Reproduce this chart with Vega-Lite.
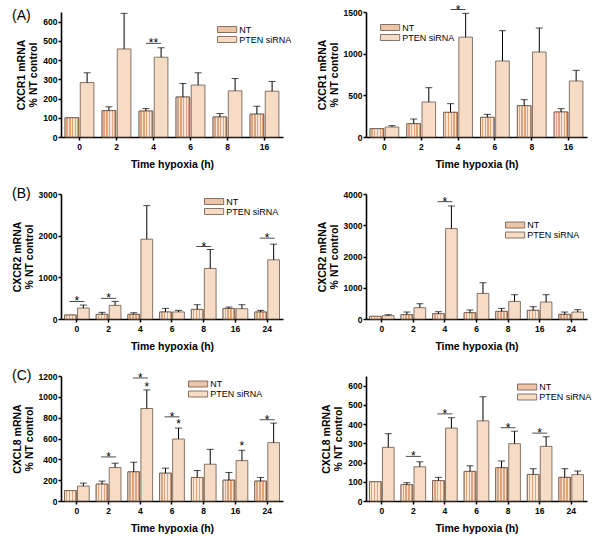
{
"$schema": "https://vega.github.io/schema/vega-lite/v6.json",
"padding": {"left": 12, "top": 3, "right": 5, "bottom": 3},
"config": {
 "font": "Liberation Sans",
 "view": {"stroke": null},
 "axis": {"domainColor": "black", "domainWidth": 1.6, "tickColor": "black", "tickWidth": 1.5, "tickSize": 3, "labelColor": "black", "labelFontWeight": "bold", "labelFontSize": 8.5, "labelFont": "Liberation Sans", "titleFont": "Liberation Sans", "titleColor": "black", "titleFontWeight": "bold", "titleFontSize": 10.5, "grid": false, "labelPadding": 1, "titleLineHeight": 12, "labelOverlap": false},
 "axisX": {"labelAngle": 0, "labelFontSize": 8.5, "labelPadding": 2, "titlePadding": 9},
 "axisY": {"titlePadding": 4, "labelOverlap": false, "tickCount": 10},
 "legend": {"orient": "none", "symbolType": "M-2.4,-0.75H2.4V0.75H-2.4Z", "symbolSize": 64, "symbolStrokeColor": "#6a5548", "symbolStrokeWidth": 0.8, "labelFontSize": 9, "labelFont": "Liberation Sans", "labelColor": "black", "rowPadding": -2, "labelOffset": 7.6, "padding": 0},
 "title": {"font": "Liberation Sans", "fontSize": 14, "fontWeight": "normal", "anchor": "start", "frame": "group", "offset": 0, "color": "black"}
},
"datasets": {
 "bars": [
  {"p":"A1","t":"0","g":"NT","v":100,"e":100},{"p":"A1","t":"0","g":"PTEN siRNA","v":283,"e":334},
  {"p":"A1","t":"2","g":"NT","v":137,"e":157},{"p":"A1","t":"2","g":"PTEN siRNA","v":458,"e":643},
  {"p":"A1","t":"4","g":"NT","v":135,"e":148},{"p":"A1","t":"4","g":"PTEN siRNA","v":415,"e":464},
  {"p":"A1","t":"6","g":"NT","v":208,"e":278},{"p":"A1","t":"6","g":"PTEN siRNA","v":270,"e":334},
  {"p":"A1","t":"8","g":"NT","v":104,"e":122},{"p":"A1","t":"8","g":"PTEN siRNA","v":240,"e":304},
  {"p":"A1","t":"16","g":"NT","v":119,"e":160},{"p":"A1","t":"16","g":"PTEN siRNA","v":238,"e":289},

  {"p":"A2","t":"0","g":"NT","v":100,"e":100},{"p":"A2","t":"0","g":"PTEN siRNA","v":120,"e":136},
  {"p":"A2","t":"2","g":"NT","v":160,"e":216},{"p":"A2","t":"2","g":"PTEN siRNA","v":420,"e":592},
  {"p":"A2","t":"4","g":"NT","v":296,"e":400},{"p":"A2","t":"4","g":"PTEN siRNA","v":1198,"e":1484},
  {"p":"A2","t":"6","g":"NT","v":236,"e":272},{"p":"A2","t":"6","g":"PTEN siRNA","v":912,"e":1276},
  {"p":"A2","t":"8","g":"NT","v":376,"e":448},{"p":"A2","t":"8","g":"PTEN siRNA","v":1020,"e":1308},
  {"p":"A2","t":"16","g":"NT","v":300,"e":340},{"p":"A2","t":"16","g":"PTEN siRNA","v":672,"e":800},

  {"p":"B1","t":"0","g":"NT","v":95,"e":95},{"p":"B1","t":"0","g":"PTEN siRNA","v":263,"e":335},
  {"p":"B1","t":"2","g":"NT","v":112,"e":160},{"p":"B1","t":"2","g":"PTEN siRNA","v":327,"e":423},
  {"p":"B1","t":"4","g":"NT","v":112,"e":150},{"p":"B1","t":"4","g":"PTEN siRNA","v":1915,"e":2721},
  {"p":"B1","t":"6","g":"NT","v":168,"e":255},{"p":"B1","t":"6","g":"PTEN siRNA","v":170,"e":207},
  {"p":"B1","t":"8","g":"NT","v":231,"e":343},{"p":"B1","t":"8","g":"PTEN siRNA","v":1213,"e":1668},
  {"p":"B1","t":"16","g":"NT","v":252,"e":287},{"p":"B1","t":"16","g":"PTEN siRNA","v":247,"e":343},
  {"p":"B1","t":"24","g":"NT","v":168,"e":207},{"p":"B1","t":"24","g":"PTEN siRNA","v":1420,"e":1796},

  {"p":"B2","t":"0","g":"NT","v":85,"e":85},{"p":"B2","t":"0","g":"PTEN siRNA","v":106,"e":138},
  {"p":"B2","t":"2","g":"NT","v":138,"e":223},{"p":"B2","t":"2","g":"PTEN siRNA","v":362,"e":489},
  {"p":"B2","t":"4","g":"NT","v":170,"e":234},{"p":"B2","t":"4","g":"PTEN siRNA","v":2894,"e":3617},
  {"p":"B2","t":"6","g":"NT","v":202,"e":287},{"p":"B2","t":"6","g":"PTEN siRNA","v":819,"e":1160},
  {"p":"B2","t":"8","g":"NT","v":245,"e":340},{"p":"B2","t":"8","g":"PTEN siRNA","v":564,"e":777},
  {"p":"B2","t":"16","g":"NT","v":277,"e":394},{"p":"B2","t":"16","g":"PTEN siRNA","v":543,"e":777},
  {"p":"B2","t":"24","g":"NT","v":149,"e":223},{"p":"B2","t":"24","g":"PTEN siRNA","v":223,"e":298},

  {"p":"C1","t":"0","g":"NT","v":100,"e":100},{"p":"C1","t":"0","g":"PTEN siRNA","v":143,"e":172},
  {"p":"C1","t":"2","g":"NT","v":162,"e":191},{"p":"C1","t":"2","g":"PTEN siRNA","v":321,"e":363},
  {"p":"C1","t":"4","g":"NT","v":280,"e":372},{"p":"C1","t":"4","g":"PTEN siRNA","v":888,"e":1066},
  {"p":"C1","t":"6","g":"NT","v":267,"e":315},{"p":"C1","t":"6","g":"PTEN siRNA","v":595,"e":700},
  {"p":"C1","t":"8","g":"NT","v":226,"e":293},{"p":"C1","t":"8","g":"PTEN siRNA","v":353,"e":496},
  {"p":"C1","t":"16","g":"NT","v":200,"e":274},{"p":"C1","t":"16","g":"PTEN siRNA","v":388,"e":487},
  {"p":"C1","t":"24","g":"NT","v":191,"e":226},{"p":"C1","t":"24","g":"PTEN siRNA","v":560,"e":748},

  {"p":"C2","t":"0","g":"NT","v":100,"e":100},{"p":"C2","t":"0","g":"PTEN siRNA","v":279,"e":350},
  {"p":"C2","t":"2","g":"NT","v":85,"e":95},{"p":"C2","t":"2","g":"PTEN siRNA","v":178,"e":204},
  {"p":"C2","t":"4","g":"NT","v":106,"e":123},{"p":"C2","t":"4","g":"PTEN siRNA","v":379,"e":433},
  {"p":"C2","t":"6","g":"NT","v":154,"e":183},{"p":"C2","t":"6","g":"PTEN siRNA","v":417,"e":542},
  {"p":"C2","t":"8","g":"NT","v":173,"e":208},{"p":"C2","t":"8","g":"PTEN siRNA","v":298,"e":363},
  {"p":"C2","t":"16","g":"NT","v":138,"e":168},{"p":"C2","t":"16","g":"PTEN siRNA","v":284,"e":334},
  {"p":"C2","t":"24","g":"NT","v":123,"e":168},{"p":"C2","t":"24","g":"PTEN siRNA","v":137,"e":156}
 ],
 "sig": [
  {"p":"A1","t":"4","y":487,"s":"**"},
  {"p":"A2","t":"4","y":1530,"s":"*"},
  {"p":"B1","t":"0","y":423,"s":"*"},{"p":"B1","t":"2","y":495,"s":"*"},{"p":"B1","t":"8","y":1740,"s":"*"},{"p":"B1","t":"24","y":1940,"s":"*"},
  {"p":"B2","t":"4","y":3755,"s":"*"},
  {"p":"C1","t":"2","y":423,"s":"*"},{"p":"C1","t":"4","y":1181,"s":"*"},{"p":"C1","t":"6","y":808,"s":"*"},{"p":"C1","t":"24","y":780,"s":"*"},
  {"p":"C2","t":"2","y":232,"s":"*"},{"p":"C2","t":"4","y":453,"s":"*"},{"p":"C2","t":"8","y":381,"s":"*"},{"p":"C2","t":"16","y":353,"s":"*"}
 ],
 "pstars": [
  {"p":"C1","t":"4","g":"PTEN siRNA","y":1096,"s":"*"},
  {"p":"C1","t":"6","g":"PTEN siRNA","y":740,"s":"*"},
  {"p":"C1","t":"16","g":"PTEN siRNA","y":527,"s":"*"}
 ]
},
"columns": 2,
"spacing": {"row": 57, "column": 83},
"bounds": "flush",
"resolve": {"scale": {"x": "independent", "y": "independent", "fill": "independent", "xOffset": "independent"}, "legend": {"fill": "independent"}},
"concat": [
     {
      "width": 222, "height": 125,
      "title": {"text": "(A)", "dx": -49, "dy": 15},
      "layer": [
       {"data": {"name": "bars"}, "transform": [{"filter": "datum.p=='A1'"}],
        "mark": {"type": "bar", "stroke": "#6a5548", "strokeWidth": 0.8},
        "encoding": {
         "x": {"field": "t", "type": "nominal", "scale": {"domain": ["0","2","4","6","8","16"], "paddingInner": 0.22, "paddingOuter": 0.11}, "axis": {"title": "Time hypoxia (h)"}},
         "xOffset": {"field": "g", "type": "nominal", "scale": {"domain": ["NT","PTEN siRNA"], "paddingInner": 0.1}},
         "y": {"field": "v", "type": "quantitative", "scale": {"domain": [0,650], "nice": false}, "axis": {"title": ["CXCR1 mRNA","% NT control"], "values": [0,100,200,300,400,500,600], "format": "d", "labelOverlap": false, "tickCount": 10}},
         "fill": {"field": "g", "type": "nominal", "scale": {"domain": ["NT","PTEN siRNA"], "range": ["#eec4a6","#f7dcc5"]}, "legend": {"title": null, "orient": "none", "legendX": 161.6, "legendY": 13}}
        }},
       {"data": {"name": "bars"}, "transform": [{"filter": "datum.p=='A1' && datum.g=='NT'"}],
        "mark": {"type": "bar", "stroke": "#6a5548", "strokeWidth": 0.8, "fill": {"gradient": "linear", "x1": 0, "y1": 0, "x2": 1, "y2": 0, "stops": [{"offset": 0, "color": "#fbe6d6"}, {"offset": 0.1, "color": "#fbe6d6"}, {"offset": 0.1, "color": "#e0a47c"}, {"offset": 0.2, "color": "#e0a47c"}, {"offset": 0.2, "color": "#fbe6d6"}, {"offset": 0.3, "color": "#fbe6d6"}, {"offset": 0.3, "color": "#e0a47c"}, {"offset": 0.4, "color": "#e0a47c"}, {"offset": 0.4, "color": "#fbe6d6"}, {"offset": 0.5, "color": "#fbe6d6"}, {"offset": 0.5, "color": "#e0a47c"}, {"offset": 0.6, "color": "#e0a47c"}, {"offset": 0.6, "color": "#fbe6d6"}, {"offset": 0.7, "color": "#fbe6d6"}, {"offset": 0.7, "color": "#e0a47c"}, {"offset": 0.8, "color": "#e0a47c"}, {"offset": 0.8, "color": "#fbe6d6"}, {"offset": 0.9, "color": "#fbe6d6"}, {"offset": 0.9, "color": "#e0a47c"}, {"offset": 1, "color": "#e0a47c"}]}},
        "encoding": {"x": {"field": "t", "type": "nominal"}, "xOffset": {"field": "g", "type": "nominal"}, "y": {"field": "v", "type": "quantitative"}}},
       {"data": {"name": "bars"}, "transform": [{"filter": "datum.p=='A1' && datum.e > datum.v"}],
        "mark": {"type": "rule", "color": "black", "strokeWidth": 1},
        "encoding": {"x": {"field": "t", "type": "nominal"}, "xOffset": {"field": "g", "type": "nominal"}, "y": {"field": "v", "type": "quantitative"}, "y2": {"field": "e"}}},
       {"data": {"name": "bars"}, "transform": [{"filter": "datum.p=='A1' && datum.e > datum.v"}],
        "mark": {"type": "tick", "color": "black", "thickness": 1, "size": 7},
        "encoding": {"x": {"field": "t", "type": "nominal"}, "xOffset": {"field": "g", "type": "nominal"}, "y": {"field": "e", "type": "quantitative"}}},
       {"data": {"name": "sig"}, "transform": [{"filter": "datum.p=='A1'"}],
        "mark": {"type": "tick", "color": "black", "thickness": 1, "size": 15},
        "encoding": {"x": {"field": "t", "type": "nominal"}, "y": {"field": "y", "type": "quantitative"}}},
       {"data": {"name": "sig"}, "transform": [{"filter": "datum.p=='A1'"}],
        "mark": {"type": "text", "dy": 4, "baseline": "alphabetic", "fontSize": 12, "color": "black"},
        "encoding": {"x": {"field": "t", "type": "nominal"}, "y": {"field": "y", "type": "quantitative"}, "text": {"field": "s"}}}
      ]
     },
     {
      "width": 221, "height": 125,
      "layer": [
       {"data": {"name": "bars"}, "transform": [{"filter": "datum.p=='A2'"}],
        "mark": {"type": "bar", "stroke": "#6a5548", "strokeWidth": 0.8},
        "encoding": {
         "x": {"field": "t", "type": "nominal", "scale": {"domain": ["0","2","4","6","8","16"], "paddingInner": 0.22, "paddingOuter": 0.11}, "axis": {"title": "Time hypoxia (h)"}},
         "xOffset": {"field": "g", "type": "nominal", "scale": {"domain": ["NT","PTEN siRNA"], "paddingInner": 0.1}},
         "y": {"field": "v", "type": "quantitative", "scale": {"domain": [0,1500], "nice": false}, "axis": {"title": ["CXCR1 mRNA","% NT control"], "values": [0,500,1000,1500], "format": "d", "labelOverlap": false, "tickCount": 10}},
         "fill": {"field": "g", "type": "nominal", "scale": {"domain": ["NT","PTEN siRNA"], "range": ["#eec4a6","#f7dcc5"]}, "legend": {"title": null, "orient": "none", "legendX": 19.6, "legendY": 11}}
        }},
       {"data": {"name": "bars"}, "transform": [{"filter": "datum.p=='A2' && datum.g=='NT'"}],
        "mark": {"type": "bar", "stroke": "#6a5548", "strokeWidth": 0.8, "fill": {"gradient": "linear", "x1": 0, "y1": 0, "x2": 1, "y2": 0, "stops": [{"offset": 0, "color": "#fbe6d6"}, {"offset": 0.1, "color": "#fbe6d6"}, {"offset": 0.1, "color": "#e0a47c"}, {"offset": 0.2, "color": "#e0a47c"}, {"offset": 0.2, "color": "#fbe6d6"}, {"offset": 0.3, "color": "#fbe6d6"}, {"offset": 0.3, "color": "#e0a47c"}, {"offset": 0.4, "color": "#e0a47c"}, {"offset": 0.4, "color": "#fbe6d6"}, {"offset": 0.5, "color": "#fbe6d6"}, {"offset": 0.5, "color": "#e0a47c"}, {"offset": 0.6, "color": "#e0a47c"}, {"offset": 0.6, "color": "#fbe6d6"}, {"offset": 0.7, "color": "#fbe6d6"}, {"offset": 0.7, "color": "#e0a47c"}, {"offset": 0.8, "color": "#e0a47c"}, {"offset": 0.8, "color": "#fbe6d6"}, {"offset": 0.9, "color": "#fbe6d6"}, {"offset": 0.9, "color": "#e0a47c"}, {"offset": 1, "color": "#e0a47c"}]}},
        "encoding": {"x": {"field": "t", "type": "nominal"}, "xOffset": {"field": "g", "type": "nominal"}, "y": {"field": "v", "type": "quantitative"}}},
       {"data": {"name": "bars"}, "transform": [{"filter": "datum.p=='A2' && datum.e > datum.v"}],
        "mark": {"type": "rule", "color": "black", "strokeWidth": 1},
        "encoding": {"x": {"field": "t", "type": "nominal"}, "xOffset": {"field": "g", "type": "nominal"}, "y": {"field": "v", "type": "quantitative"}, "y2": {"field": "e"}}},
       {"data": {"name": "bars"}, "transform": [{"filter": "datum.p=='A2' && datum.e > datum.v"}],
        "mark": {"type": "tick", "color": "black", "thickness": 1, "size": 7},
        "encoding": {"x": {"field": "t", "type": "nominal"}, "xOffset": {"field": "g", "type": "nominal"}, "y": {"field": "e", "type": "quantitative"}}},
       {"data": {"name": "sig"}, "transform": [{"filter": "datum.p=='A2'"}],
        "mark": {"type": "tick", "color": "black", "thickness": 1, "size": 15},
        "encoding": {"x": {"field": "t", "type": "nominal"}, "y": {"field": "y", "type": "quantitative"}}},
       {"data": {"name": "sig"}, "transform": [{"filter": "datum.p=='A2'"}],
        "mark": {"type": "text", "dy": 4, "baseline": "alphabetic", "fontSize": 12, "color": "black"},
        "encoding": {"x": {"field": "t", "type": "nominal"}, "y": {"field": "y", "type": "quantitative"}, "text": {"field": "s"}}}
      ]
     },
     {
      "width": 222, "height": 125,
      "title": {"text": "(B)", "dx": -49, "dy": 15},
      "layer": [
       {"data": {"name": "bars"}, "transform": [{"filter": "datum.p=='B1'"}],
        "mark": {"type": "bar", "stroke": "#6a5548", "strokeWidth": 0.8},
        "encoding": {
         "x": {"field": "t", "type": "nominal", "scale": {"domain": ["0","2","4","6","8","16","24"], "paddingInner": 0.22, "paddingOuter": 0.11}, "axis": {"title": "Time hypoxia (h)"}},
         "xOffset": {"field": "g", "type": "nominal", "scale": {"domain": ["NT","PTEN siRNA"], "paddingInner": 0.1}},
         "y": {"field": "v", "type": "quantitative", "scale": {"domain": [0,3000], "nice": false}, "axis": {"title": ["CXCR2 mRNA","% NT control"], "values": [0,1000,2000,3000], "format": "d", "labelOverlap": false, "tickCount": 10}},
         "fill": {"field": "g", "type": "nominal", "scale": {"domain": ["NT","PTEN siRNA"], "range": ["#eec4a6","#f7dcc5"]}, "legend": {"title": null, "orient": "none", "legendX": 148.6, "legendY": 3}}
        }},
       {"data": {"name": "bars"}, "transform": [{"filter": "datum.p=='B1' && datum.g=='NT'"}],
        "mark": {"type": "bar", "stroke": "#6a5548", "strokeWidth": 0.8, "fill": {"gradient": "linear", "x1": 0, "y1": 0, "x2": 1, "y2": 0, "stops": [{"offset": 0, "color": "#fbe6d6"}, {"offset": 0.125, "color": "#fbe6d6"}, {"offset": 0.125, "color": "#e0a47c"}, {"offset": 0.25, "color": "#e0a47c"}, {"offset": 0.25, "color": "#fbe6d6"}, {"offset": 0.375, "color": "#fbe6d6"}, {"offset": 0.375, "color": "#e0a47c"}, {"offset": 0.5, "color": "#e0a47c"}, {"offset": 0.5, "color": "#fbe6d6"}, {"offset": 0.625, "color": "#fbe6d6"}, {"offset": 0.625, "color": "#e0a47c"}, {"offset": 0.75, "color": "#e0a47c"}, {"offset": 0.75, "color": "#fbe6d6"}, {"offset": 0.875, "color": "#fbe6d6"}, {"offset": 0.875, "color": "#e0a47c"}, {"offset": 1, "color": "#e0a47c"}]}},
        "encoding": {"x": {"field": "t", "type": "nominal"}, "xOffset": {"field": "g", "type": "nominal"}, "y": {"field": "v", "type": "quantitative"}}},
       {"data": {"name": "bars"}, "transform": [{"filter": "datum.p=='B1' && datum.e > datum.v"}],
        "mark": {"type": "rule", "color": "black", "strokeWidth": 1},
        "encoding": {"x": {"field": "t", "type": "nominal"}, "xOffset": {"field": "g", "type": "nominal"}, "y": {"field": "v", "type": "quantitative"}, "y2": {"field": "e"}}},
       {"data": {"name": "bars"}, "transform": [{"filter": "datum.p=='B1' && datum.e > datum.v"}],
        "mark": {"type": "tick", "color": "black", "thickness": 1, "size": 7},
        "encoding": {"x": {"field": "t", "type": "nominal"}, "xOffset": {"field": "g", "type": "nominal"}, "y": {"field": "e", "type": "quantitative"}}},
       {"data": {"name": "sig"}, "transform": [{"filter": "datum.p=='B1'"}],
        "mark": {"type": "tick", "color": "black", "thickness": 1, "size": 15},
        "encoding": {"x": {"field": "t", "type": "nominal"}, "y": {"field": "y", "type": "quantitative"}}},
       {"data": {"name": "sig"}, "transform": [{"filter": "datum.p=='B1'"}],
        "mark": {"type": "text", "dy": 4, "baseline": "alphabetic", "fontSize": 12, "color": "black"},
        "encoding": {"x": {"field": "t", "type": "nominal"}, "y": {"field": "y", "type": "quantitative"}, "text": {"field": "s"}}}
      ]
     },
     {
      "width": 221, "height": 125,
      "layer": [
       {"data": {"name": "bars"}, "transform": [{"filter": "datum.p=='B2'"}],
        "mark": {"type": "bar", "stroke": "#6a5548", "strokeWidth": 0.8},
        "encoding": {
         "x": {"field": "t", "type": "nominal", "scale": {"domain": ["0","2","4","6","8","16","24"], "paddingInner": 0.22, "paddingOuter": 0.11}, "axis": {"title": "Time hypoxia (h)"}},
         "xOffset": {"field": "g", "type": "nominal", "scale": {"domain": ["NT","PTEN siRNA"], "paddingInner": 0.1}},
         "y": {"field": "v", "type": "quantitative", "scale": {"domain": [0,4000], "nice": false}, "axis": {"title": ["CXCR2 mRNA","% NT control"], "values": [0,1000,2000,3000,4000], "format": "d", "labelOverlap": false, "tickCount": 10}},
         "fill": {"field": "g", "type": "nominal", "scale": {"domain": ["NT","PTEN siRNA"], "range": ["#eec4a6","#f7dcc5"]}, "legend": {"title": null, "orient": "none", "legendX": 144.6, "legendY": 26.5}}
        }},
       {"data": {"name": "bars"}, "transform": [{"filter": "datum.p=='B2' && datum.g=='NT'"}],
        "mark": {"type": "bar", "stroke": "#6a5548", "strokeWidth": 0.8, "fill": {"gradient": "linear", "x1": 0, "y1": 0, "x2": 1, "y2": 0, "stops": [{"offset": 0, "color": "#fbe6d6"}, {"offset": 0.125, "color": "#fbe6d6"}, {"offset": 0.125, "color": "#e0a47c"}, {"offset": 0.25, "color": "#e0a47c"}, {"offset": 0.25, "color": "#fbe6d6"}, {"offset": 0.375, "color": "#fbe6d6"}, {"offset": 0.375, "color": "#e0a47c"}, {"offset": 0.5, "color": "#e0a47c"}, {"offset": 0.5, "color": "#fbe6d6"}, {"offset": 0.625, "color": "#fbe6d6"}, {"offset": 0.625, "color": "#e0a47c"}, {"offset": 0.75, "color": "#e0a47c"}, {"offset": 0.75, "color": "#fbe6d6"}, {"offset": 0.875, "color": "#fbe6d6"}, {"offset": 0.875, "color": "#e0a47c"}, {"offset": 1, "color": "#e0a47c"}]}},
        "encoding": {"x": {"field": "t", "type": "nominal"}, "xOffset": {"field": "g", "type": "nominal"}, "y": {"field": "v", "type": "quantitative"}}},
       {"data": {"name": "bars"}, "transform": [{"filter": "datum.p=='B2' && datum.e > datum.v"}],
        "mark": {"type": "rule", "color": "black", "strokeWidth": 1},
        "encoding": {"x": {"field": "t", "type": "nominal"}, "xOffset": {"field": "g", "type": "nominal"}, "y": {"field": "v", "type": "quantitative"}, "y2": {"field": "e"}}},
       {"data": {"name": "bars"}, "transform": [{"filter": "datum.p=='B2' && datum.e > datum.v"}],
        "mark": {"type": "tick", "color": "black", "thickness": 1, "size": 7},
        "encoding": {"x": {"field": "t", "type": "nominal"}, "xOffset": {"field": "g", "type": "nominal"}, "y": {"field": "e", "type": "quantitative"}}},
       {"data": {"name": "sig"}, "transform": [{"filter": "datum.p=='B2'"}],
        "mark": {"type": "tick", "color": "black", "thickness": 1, "size": 15},
        "encoding": {"x": {"field": "t", "type": "nominal"}, "y": {"field": "y", "type": "quantitative"}}},
       {"data": {"name": "sig"}, "transform": [{"filter": "datum.p=='B2'"}],
        "mark": {"type": "text", "dy": 4, "baseline": "alphabetic", "fontSize": 12, "color": "black"},
        "encoding": {"x": {"field": "t", "type": "nominal"}, "y": {"field": "y", "type": "quantitative"}, "text": {"field": "s"}}}
      ]
     },
   {
    "width": 222, "height": 125,
    "title": {"text": "(C)", "dx": -49, "dy": 15},
    "layer": [
     {"data": {"name": "bars"}, "transform": [{"filter": "datum.p=='C1'"}],
      "mark": {"type": "bar", "stroke": "#6a5548", "strokeWidth": 0.8},
      "encoding": {
       "x": {"field": "t", "type": "nominal", "scale": {"domain": ["0","2","4","6","8","16","24"], "paddingInner": 0.22, "paddingOuter": 0.11}, "axis": {"title": "Time hypoxia (h)"}},
       "xOffset": {"field": "g", "type": "nominal", "scale": {"domain": ["NT","PTEN siRNA"], "paddingInner": 0.1}},
       "y": {"field": "v", "type": "quantitative", "scale": {"domain": [0,1200], "nice": false}, "axis": {"title": ["CXCL8 mRNA","% NT control"], "values": [0,200,400,600,800,1000,1200], "format": "d", "labelOverlap": false, "tickCount": 10}},
       "fill": {"field": "g", "type": "nominal", "scale": {"domain": ["NT","PTEN siRNA"], "range": ["#eec4a6","#f7dcc5"]}, "legend": {"title": null, "orient": "none", "legendX": 132.6, "legendY": 3.5}}
      }},
     {"data": {"name": "bars"}, "transform": [{"filter": "datum.p=='C1' && datum.g=='NT'"}],
      "mark": {"type": "bar", "stroke": "#6a5548", "strokeWidth": 0.8, "fill": {"gradient": "linear", "x1": 0, "y1": 0, "x2": 1, "y2": 0, "stops": [{"offset": 0, "color": "#fbe6d6"}, {"offset": 0.125, "color": "#fbe6d6"}, {"offset": 0.125, "color": "#e0a47c"}, {"offset": 0.25, "color": "#e0a47c"}, {"offset": 0.25, "color": "#fbe6d6"}, {"offset": 0.375, "color": "#fbe6d6"}, {"offset": 0.375, "color": "#e0a47c"}, {"offset": 0.5, "color": "#e0a47c"}, {"offset": 0.5, "color": "#fbe6d6"}, {"offset": 0.625, "color": "#fbe6d6"}, {"offset": 0.625, "color": "#e0a47c"}, {"offset": 0.75, "color": "#e0a47c"}, {"offset": 0.75, "color": "#fbe6d6"}, {"offset": 0.875, "color": "#fbe6d6"}, {"offset": 0.875, "color": "#e0a47c"}, {"offset": 1, "color": "#e0a47c"}]}},
      "encoding": {"x": {"field": "t", "type": "nominal"}, "xOffset": {"field": "g", "type": "nominal"}, "y": {"field": "v", "type": "quantitative"}}},
     {"data": {"name": "bars"}, "transform": [{"filter": "datum.p=='C1' && datum.e > datum.v"}],
      "mark": {"type": "rule", "color": "black", "strokeWidth": 1},
      "encoding": {"x": {"field": "t", "type": "nominal"}, "xOffset": {"field": "g", "type": "nominal"}, "y": {"field": "v", "type": "quantitative"}, "y2": {"field": "e"}}},
     {"data": {"name": "bars"}, "transform": [{"filter": "datum.p=='C1' && datum.e > datum.v"}],
      "mark": {"type": "tick", "color": "black", "thickness": 1, "size": 7},
      "encoding": {"x": {"field": "t", "type": "nominal"}, "xOffset": {"field": "g", "type": "nominal"}, "y": {"field": "e", "type": "quantitative"}}},
     {"data": {"name": "sig"}, "transform": [{"filter": "datum.p=='C1'"}],
      "mark": {"type": "tick", "color": "black", "thickness": 1, "size": 15},
      "encoding": {"x": {"field": "t", "type": "nominal"}, "y": {"field": "y", "type": "quantitative"}}},
     {"data": {"name": "sig"}, "transform": [{"filter": "datum.p=='C1'"}],
      "mark": {"type": "text", "dy": 4, "baseline": "alphabetic", "fontSize": 12, "color": "black"},
      "encoding": {"x": {"field": "t", "type": "nominal"}, "y": {"field": "y", "type": "quantitative"}, "text": {"field": "s"}}},
     {"data": {"name": "pstars"}, "transform": [{"filter": "datum.p=='C1'"}],
      "mark": {"type": "text", "dy": 4, "baseline": "alphabetic", "fontSize": 12, "color": "black"},
      "encoding": {"x": {"field": "t", "type": "nominal"}, "xOffset": {"field": "g", "type": "nominal"}, "y": {"field": "y", "type": "quantitative"}, "text": {"field": "s"}}}
    ]
   },
   {
    "width": 221, "height": 125,
    "layer": [
     {"data": {"name": "bars"}, "transform": [{"filter": "datum.p=='C2'"}],
      "mark": {"type": "bar", "stroke": "#6a5548", "strokeWidth": 0.8},
      "encoding": {
       "x": {"field": "t", "type": "nominal", "scale": {"domain": ["0","2","4","6","8","16","24"], "paddingInner": 0.22, "paddingOuter": 0.11}, "axis": {"title": "Time hypoxia (h)"}},
       "xOffset": {"field": "g", "type": "nominal", "scale": {"domain": ["NT","PTEN siRNA"], "paddingInner": 0.1}},
       "y": {"field": "v", "type": "quantitative", "scale": {"domain": [0,650], "nice": false}, "axis": {"title": ["CXCL8 mRNA","% NT control"], "values": [0,100,200,300,400,500,600], "format": "d", "labelOverlap": false, "tickCount": 10}},
       "fill": {"field": "g", "type": "nominal", "scale": {"domain": ["NT","PTEN siRNA"], "range": ["#eec4a6","#f7dcc5"]}, "legend": {"title": null, "orient": "none", "legendX": 156.6, "legendY": 6.5}}
      }},
     {"data": {"name": "bars"}, "transform": [{"filter": "datum.p=='C2' && datum.g=='NT'"}],
      "mark": {"type": "bar", "stroke": "#6a5548", "strokeWidth": 0.8, "fill": {"gradient": "linear", "x1": 0, "y1": 0, "x2": 1, "y2": 0, "stops": [{"offset": 0, "color": "#fbe6d6"}, {"offset": 0.125, "color": "#fbe6d6"}, {"offset": 0.125, "color": "#e0a47c"}, {"offset": 0.25, "color": "#e0a47c"}, {"offset": 0.25, "color": "#fbe6d6"}, {"offset": 0.375, "color": "#fbe6d6"}, {"offset": 0.375, "color": "#e0a47c"}, {"offset": 0.5, "color": "#e0a47c"}, {"offset": 0.5, "color": "#fbe6d6"}, {"offset": 0.625, "color": "#fbe6d6"}, {"offset": 0.625, "color": "#e0a47c"}, {"offset": 0.75, "color": "#e0a47c"}, {"offset": 0.75, "color": "#fbe6d6"}, {"offset": 0.875, "color": "#fbe6d6"}, {"offset": 0.875, "color": "#e0a47c"}, {"offset": 1, "color": "#e0a47c"}]}},
      "encoding": {"x": {"field": "t", "type": "nominal"}, "xOffset": {"field": "g", "type": "nominal"}, "y": {"field": "v", "type": "quantitative"}}},
     {"data": {"name": "bars"}, "transform": [{"filter": "datum.p=='C2' && datum.e > datum.v"}],
      "mark": {"type": "rule", "color": "black", "strokeWidth": 1},
      "encoding": {"x": {"field": "t", "type": "nominal"}, "xOffset": {"field": "g", "type": "nominal"}, "y": {"field": "v", "type": "quantitative"}, "y2": {"field": "e"}}},
     {"data": {"name": "bars"}, "transform": [{"filter": "datum.p=='C2' && datum.e > datum.v"}],
      "mark": {"type": "tick", "color": "black", "thickness": 1, "size": 7},
      "encoding": {"x": {"field": "t", "type": "nominal"}, "xOffset": {"field": "g", "type": "nominal"}, "y": {"field": "e", "type": "quantitative"}}},
     {"data": {"name": "sig"}, "transform": [{"filter": "datum.p=='C2'"}],
      "mark": {"type": "tick", "color": "black", "thickness": 1, "size": 15},
      "encoding": {"x": {"field": "t", "type": "nominal"}, "y": {"field": "y", "type": "quantitative"}}},
     {"data": {"name": "sig"}, "transform": [{"filter": "datum.p=='C2'"}],
      "mark": {"type": "text", "dy": 4, "baseline": "alphabetic", "fontSize": 12, "color": "black"},
      "encoding": {"x": {"field": "t", "type": "nominal"}, "y": {"field": "y", "type": "quantitative"}, "text": {"field": "s"}}}
    ]
   }
]
}
